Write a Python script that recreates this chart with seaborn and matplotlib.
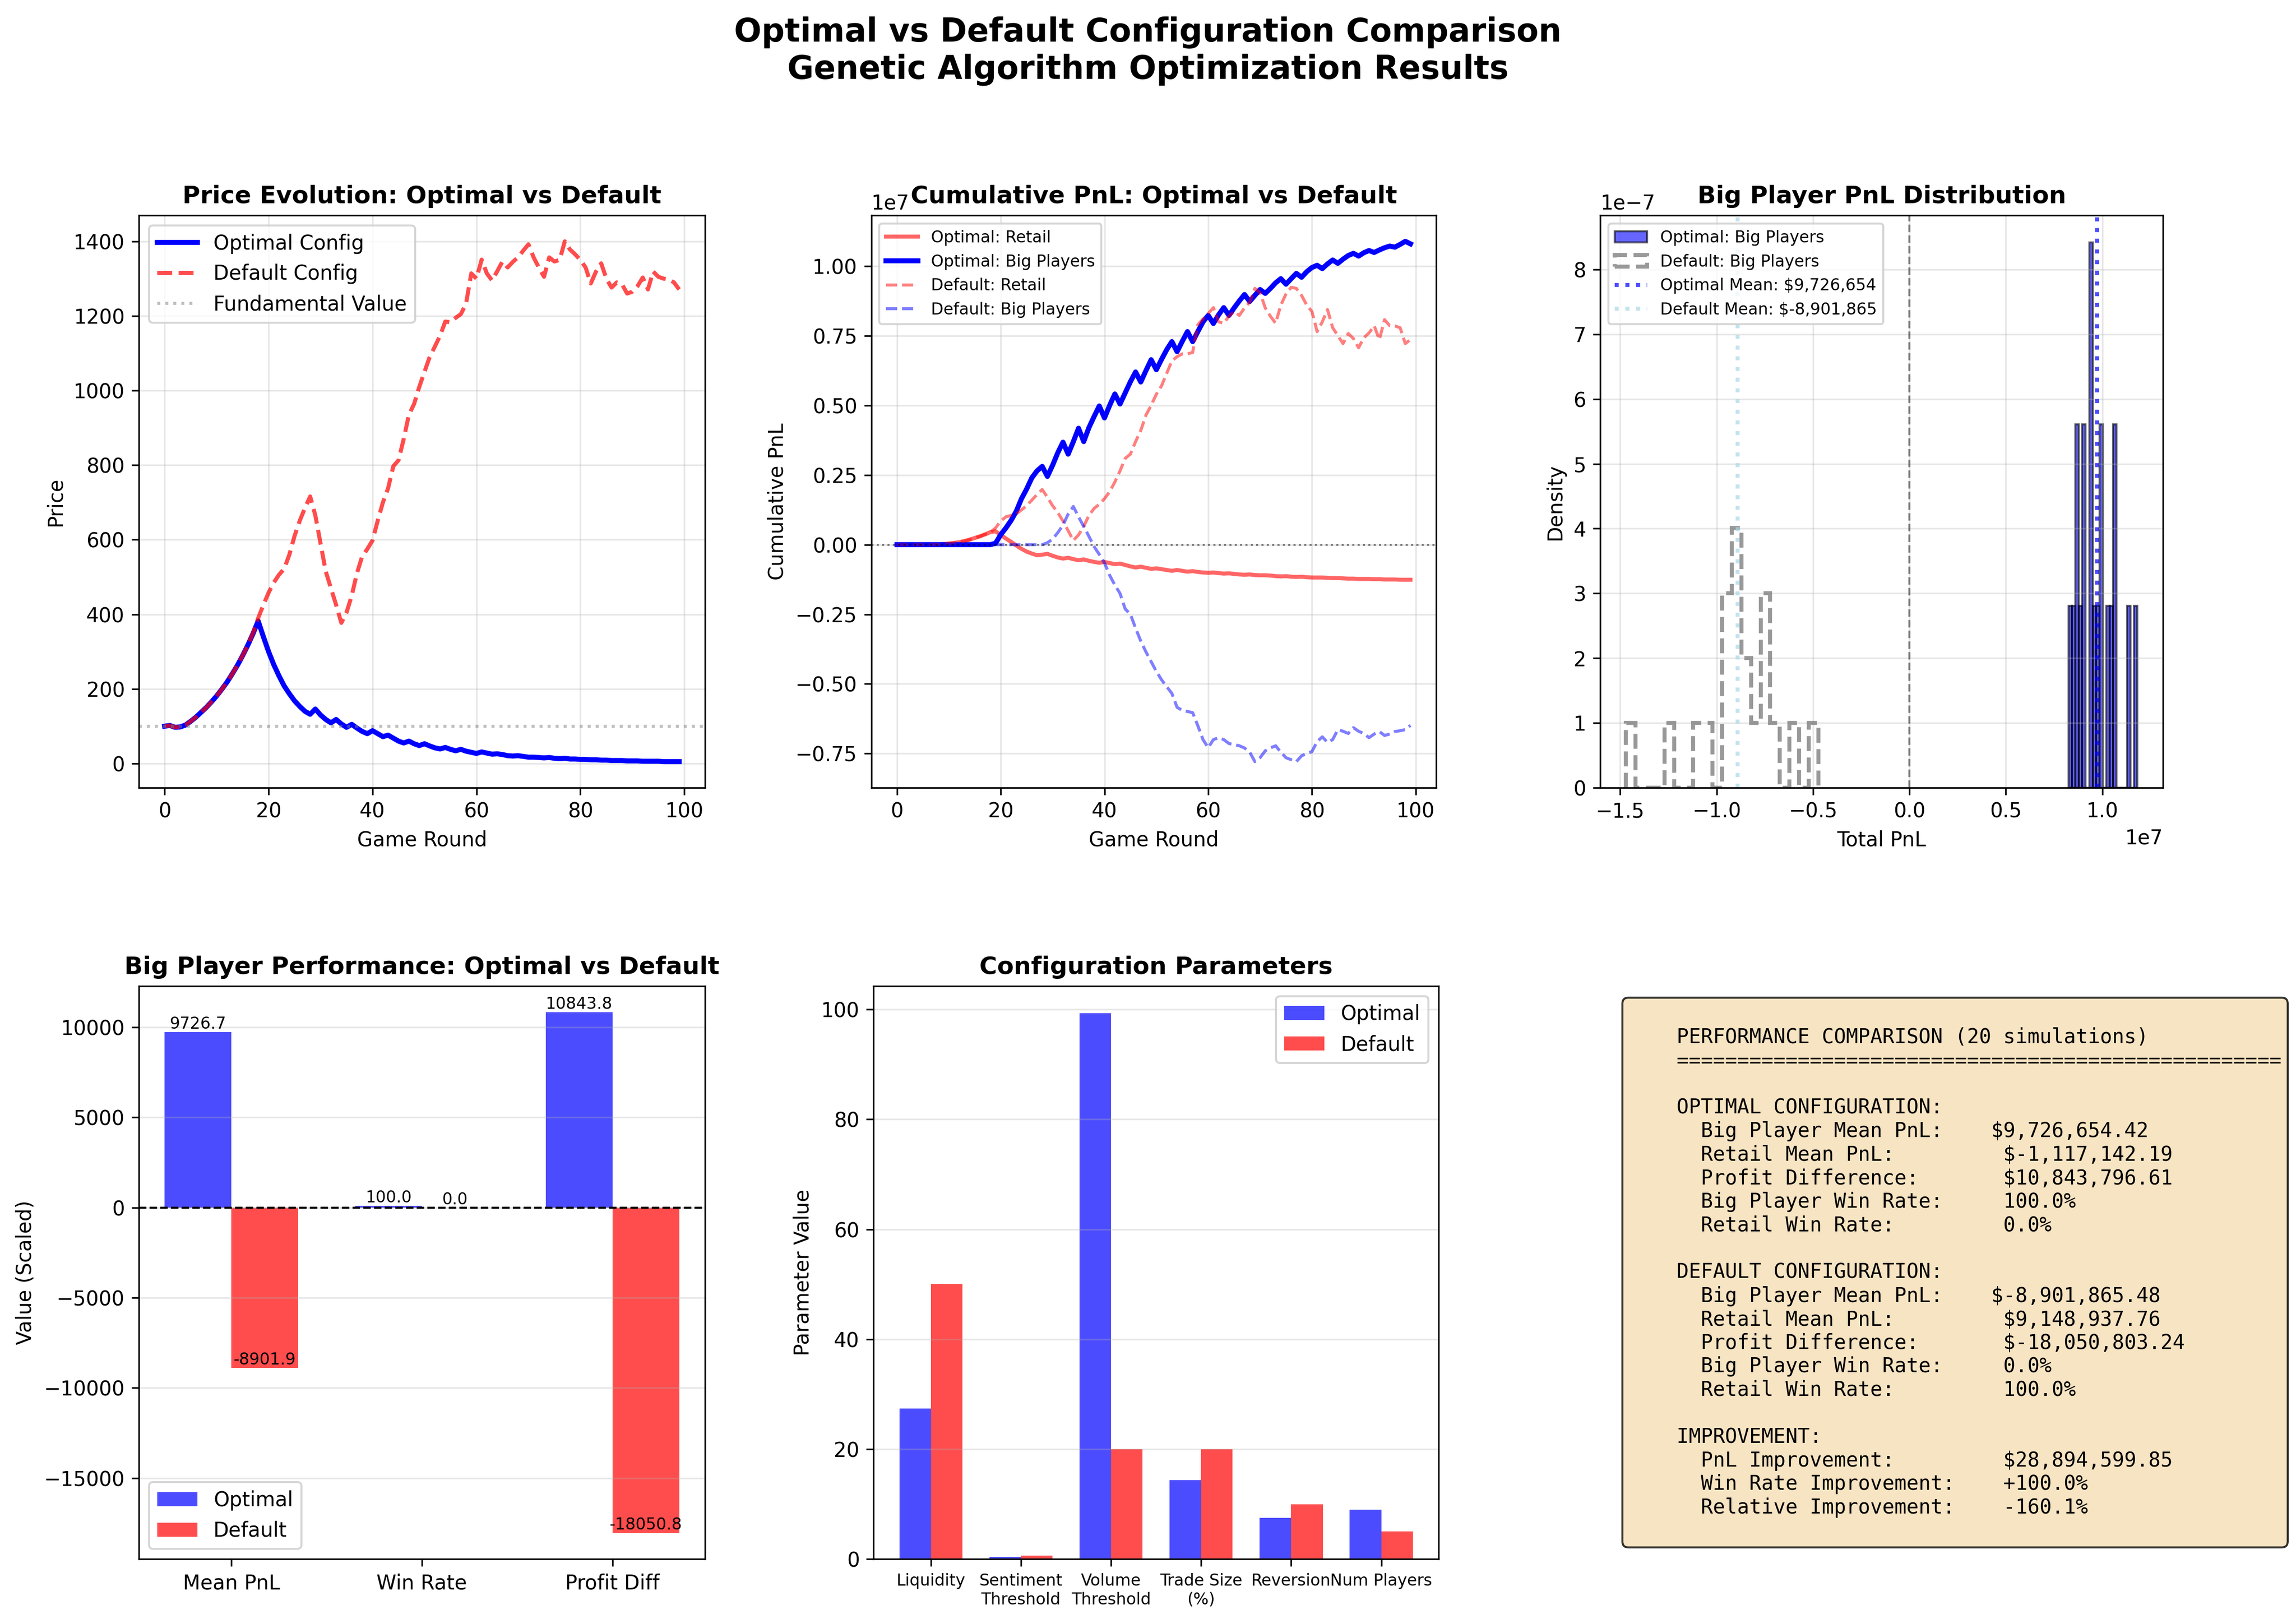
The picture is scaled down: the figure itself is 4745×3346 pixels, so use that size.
import numpy as np
import pandas as pd
import seaborn as sns
import matplotlib.pyplot as plt
from matplotlib.patches import Patch

# rounds
rounds = np.arange(100)

# price paths
price_optimal = [100, 102, 97, 98, 103, 113, 124, 137, 150, 165,
                 181, 199, 218, 240, 263, 289, 317, 348, 382, 340,
                 300, 265, 235, 208, 187, 168, 153, 140, 132, 146,
                 130, 118, 109, 118, 106, 97, 105, 95, 86, 80,
                 88, 80, 72, 76, 68, 60, 55, 60, 53, 48,
                 53, 47, 42, 39, 43, 38, 34, 38, 33, 30,
                 27, 31, 28, 25, 26, 24, 21, 20, 21, 19,
                 17, 17, 16, 15, 16, 14, 13, 14, 12, 12,
                 11, 11, 10, 10, 9, 9, 8, 8, 8, 7,
                 7, 7, 6, 6, 6, 6, 5, 5, 5, 5]
price_default = [100, 102, 97, 98, 103, 113, 124, 137, 150, 165,
                 181, 199, 218, 240, 263, 289, 317, 350, 390, 425,
                 458, 485, 506, 522, 560, 610, 651, 685, 716, 665,
                 590, 515, 470, 425, 377, 405, 450, 510, 555, 575,
                 598, 651, 700, 738, 797, 813, 870, 935, 964, 1010,
                 1050, 1090, 1118, 1147, 1185, 1183, 1195, 1205, 1233, 1314,
                 1300, 1351, 1314, 1295, 1320, 1346, 1330, 1345, 1357, 1375,
                 1392, 1357, 1330, 1305, 1357, 1346, 1350, 1400, 1378, 1365,
                 1350, 1330, 1287, 1319, 1341, 1300, 1276, 1290, 1285, 1260,
                 1265, 1280, 1303, 1271, 1319, 1305, 1300, 1298, 1290, 1271]
fundamental_value = 100

# cumulative pnl, in units of 1e7
cum_opt_retail = [0, 0, 0, 0, 0, 0, 0, 0, 0.001, 0.002,
                  0.004, 0.006, 0.009, 0.013, 0.018, 0.024, 0.030, 0.037, 0.045, 0.048,
                  0.035, 0.022, 0.010, -0.003, -0.015, -0.025, -0.032, -0.038, -0.036, -0.033,
                  -0.040, -0.046, -0.050, -0.047, -0.052, -0.056, -0.053, -0.058, -0.062, -0.065,
                  -0.062, -0.066, -0.070, -0.068, -0.073, -0.078, -0.082, -0.079, -0.083, -0.087,
                  -0.085, -0.088, -0.091, -0.094, -0.091, -0.094, -0.097, -0.095, -0.098, -0.100,
                  -0.101, -0.100, -0.102, -0.104, -0.103, -0.105, -0.107, -0.108, -0.107, -0.109,
                  -0.110, -0.110, -0.111, -0.113, -0.114, -0.113, -0.115, -0.116, -0.115, -0.117,
                  -0.118, -0.118, -0.118, -0.119, -0.120, -0.120, -0.121, -0.122, -0.122, -0.123,
                  -0.123, -0.123, -0.124, -0.124, -0.125, -0.125, -0.125, -0.126, -0.126, -0.126]
cum_opt_big = [0, 0, 0, 0, 0, 0, 0, 0, 0, 0,
               0, 0, 0, 0, 0, 0, 0, 0, 0, 0.005,
               0.036, 0.060, 0.087, 0.120, 0.165, 0.200, 0.240, 0.265, 0.281, 0.245,
               0.285, 0.330, 0.368, 0.325, 0.370, 0.418, 0.370, 0.420, 0.460, 0.498,
               0.455, 0.500, 0.541, 0.505, 0.545, 0.585, 0.620, 0.584, 0.625, 0.664,
               0.628, 0.665, 0.700, 0.729, 0.693, 0.730, 0.765, 0.729, 0.765, 0.800,
               0.823, 0.794, 0.825, 0.851, 0.823, 0.850, 0.875, 0.898, 0.873, 0.895,
               0.916, 0.902, 0.920, 0.940, 0.955, 0.935, 0.955, 0.974, 0.960, 0.980,
               0.995, 1.003, 0.991, 1.008, 1.022, 1.010, 1.025, 1.038, 1.046, 1.036,
               1.048, 1.056, 1.049, 1.058, 1.066, 1.072, 1.068, 1.078, 1.089, 1.080]
cum_def_retail = [0, 0, 0, 0, 0, 0, 0, 0, 0.001, 0.002,
                  0.004, 0.006, 0.009, 0.013, 0.018, 0.024, 0.030, 0.037, 0.045, 0.060,
                  0.085, 0.100, 0.105, 0.110, 0.125, 0.140, 0.160, 0.180, 0.198, 0.170,
                  0.140, 0.115, 0.085, 0.050, 0.015, 0.035, 0.065, 0.105, 0.130, 0.145,
                  0.165, 0.190, 0.225, 0.265, 0.310, 0.325, 0.370, 0.410, 0.465, 0.500,
                  0.540, 0.570, 0.615, 0.660, 0.675, 0.685, 0.685, 0.690, 0.790, 0.810,
                  0.830, 0.851, 0.800, 0.795, 0.820, 0.837, 0.823, 0.850, 0.870, 0.920,
                  0.905, 0.850, 0.820, 0.795, 0.860, 0.900, 0.924, 0.920, 0.895, 0.860,
                  0.837, 0.765, 0.800, 0.844, 0.779, 0.750, 0.722, 0.758, 0.740, 0.707,
                  0.743, 0.760, 0.786, 0.736, 0.808, 0.786, 0.785, 0.779, 0.722, 0.736]
cum_def_big = [0, 0, 0, 0, 0, 0, 0, 0, 0, 0,
               0, 0, 0, 0, 0, 0, 0, 0, 0, 0,
               0, 0, 0, 0, 0, 0, 0, 0, 0, 0.007,
               0.020, 0.043, 0.070, 0.110, 0.137, 0.100, 0.065, 0.030, -0.007, -0.035,
               -0.065, -0.110, -0.145, -0.175, -0.231, -0.250, -0.300, -0.346, -0.385, -0.420,
               -0.455, -0.485, -0.510, -0.534, -0.584, -0.595, -0.599, -0.603, -0.650, -0.700,
               -0.729, -0.700, -0.693, -0.700, -0.714, -0.718, -0.722, -0.730, -0.745, -0.779,
               -0.765, -0.740, -0.730, -0.722, -0.745, -0.765, -0.772, -0.779, -0.758, -0.750,
               -0.743, -0.707, -0.690, -0.710, -0.700, -0.664, -0.670, -0.678, -0.657, -0.670,
               -0.678, -0.693, -0.680, -0.671, -0.685, -0.680, -0.671, -0.668, -0.664, -0.649]

# total big player pnl per simulation, in millions
big_pnl_optimal = [8.248, 8.55, 8.68, 8.75, 8.90, 9.04, 9.12, 9.38, 9.43, 9.48,
                   9.58, 9.76, 9.90, 10.00, 10.28, 10.46, 10.62, 10.71, 11.40, 11.813]
big_pnl_default = [-14.707, -12.45, -10.95, -10.45, -9.65, -9.45, -9.30, -9.15, -9.00, -8.90,
                   -8.78, -8.60, -8.35, -7.95, -7.65, -7.45, -7.30, -6.95, -5.95, -4.725]

# summary numbers
n_sims = 20
opt_stats = [9726654.42, -1117142.19, 10843796.61, 100.0, 0.0]
def_stats = [-8901865.48, 9148937.76, -18050803.24, 0.0, 100.0]
improvement = [28894599.85, 100.0, -160.1]

# performance bars (pnl scaled to thousands)
perf_metrics = ['Mean PnL', 'Win Rate', 'Profit Diff']
perf_optimal = [9726.654, 100.0, 10843.797]
perf_default = [-8901.865, 0.0, -18050.803]

# configuration parameters
param_names = ['Liquidity', 'Sentiment\nThreshold', 'Volume\nThreshold',
               'Trade Size\n(%)', 'Reversion', 'Num Players']
param_optimal = [27.4, 0.35, 99.3, 14.4, 7.5, 9]
param_default = [50, 0.6, 20, 20, 10, 5]

fig = plt.figure(figsize=(4745 / 300, 3346 / 300))
ax1 = fig.add_axes([0.0605, 0.5135, 0.2465, 0.3535])
ax2 = fig.add_axes([0.3795, 0.5135, 0.2460, 0.3535])
ax3 = fig.add_axes([0.6970, 0.5135, 0.2450, 0.3535])
ax4 = fig.add_axes([0.0605, 0.0370, 0.2465, 0.3540])
ax5 = fig.add_axes([0.3805, 0.0370, 0.2460, 0.3540])
ax6 = fig.add_axes([0.6970, 0.0370, 0.2450, 0.3540])

fig.suptitle('Optimal vs Default Configuration Comparison\nGenetic Algorithm Optimization Results',
             fontsize=16, fontweight='bold', y=0.99)

# 1 price
sns.lineplot(x=rounds, y=price_optimal, ax=ax1, color='blue', linewidth=2.5, label='Optimal Config')
sns.lineplot(x=rounds, y=price_default, ax=ax1, color='red', linewidth=2, linestyle='--',
             alpha=0.7, label='Default Config')
ax1.axhline(fundamental_value, color='gray', linestyle=':', alpha=0.5, linewidth=1.5,
            label='Fundamental Value')
ax1.set_title('Price Evolution: Optimal vs Default', fontsize=12, fontweight='bold')
ax1.set_xlabel('Game Round')
ax1.set_ylabel('Price')
ax1.legend(loc='upper left')
ax1.grid(True, alpha=0.3)

# 2 cumulative pnl
sns.lineplot(x=rounds, y=np.array(cum_opt_retail) * 1e7, ax=ax2, color='red', linewidth=2,
             alpha=0.6, label='Optimal: Retail')
sns.lineplot(x=rounds, y=np.array(cum_opt_big) * 1e7, ax=ax2, color='blue', linewidth=2.5,
             label='Optimal: Big Players')
sns.lineplot(x=rounds, y=np.array(cum_def_retail) * 1e7, ax=ax2, color='red', linewidth=1.5,
             linestyle='--', alpha=0.5, label='Default: Retail')
sns.lineplot(x=rounds, y=np.array(cum_def_big) * 1e7, ax=ax2, color='blue', linewidth=1.5,
             linestyle='--', alpha=0.5, label='Default: Big Players')
ax2.axhline(0, color='black', linestyle=':', alpha=0.5, linewidth=1)
ax2.set_title('Cumulative PnL: Optimal vs Default', fontsize=12, fontweight='bold')
ax2.set_xlabel('Game Round')
ax2.set_ylabel('Cumulative PnL')
ax2.legend(loc='upper left', fontsize=8)
ax2.grid(True, alpha=0.3)

# 3 distribution
ax3.hist(np.array(big_pnl_optimal) * 1e6, bins=20, alpha=0.6, color='blue', edgecolor='black',
         density=True, label='Optimal: Big Players')
ax3.hist(np.array(big_pnl_default) * 1e6, bins=20, alpha=0.8, color='gray', density=True,
         histtype='step', linestyle='--', linewidth=2, label='Default: Big Players')
ax3.axvline(opt_stats[0], color='blue', linestyle=':', linewidth=2, alpha=0.7,
            label=f'Optimal Mean: ${opt_stats[0]:,.0f}')
ax3.axvline(def_stats[0], color='lightblue', linestyle=':', linewidth=2, alpha=0.7,
            label=f'Default Mean: ${def_stats[0]:,.0f}')
ax3.axvline(0, color='black', linestyle='--', alpha=0.5, linewidth=1)
ax3.set_title('Big Player PnL Distribution', fontsize=12, fontweight='bold')
ax3.set_xlabel('Total PnL')
ax3.set_ylabel('Density')
ax3.legend(loc='upper left', fontsize=8)
ax3.grid(True, alpha=0.3)

palette = {'Optimal': 'blue', 'Default': 'red'}
legend_handles = [Patch(facecolor='blue', alpha=0.7, label='Optimal'),
                  Patch(facecolor='red', alpha=0.7, label='Default')]

# 4 performance bars
perf_df = pd.DataFrame({
    'metric': perf_metrics * 2,
    'config': ['Optimal'] * 3 + ['Default'] * 3,
    'value': perf_optimal + perf_default,
})
sns.barplot(data=perf_df, x='metric', y='value', hue='config', palette=palette, alpha=0.7,
            saturation=1, width=0.7, errorbar=None, legend=False, ax=ax4)
for cont in ax4.containers:
    for bar in cont:
        h = bar.get_height()
        ax4.text(bar.get_x() + bar.get_width() / 2, h, f'{h:.1f}', ha='center', va='bottom',
                 fontsize=8)
ax4.axhline(0, color='black', linestyle='--', linewidth=1)
ax4.autoscale(enable=True, axis='x')
ax4.set_title('Big Player Performance: Optimal vs Default', fontsize=12, fontweight='bold')
ax4.set_xlabel('')
ax4.set_ylabel('Value (Scaled)')
ax4.legend(handles=legend_handles, loc='lower left')
ax4.grid(True, alpha=0.3, axis='y')

# 5 parameters
param_df = pd.DataFrame({
    'param': param_names * 2,
    'config': ['Optimal'] * 6 + ['Default'] * 6,
    'value': param_optimal + param_default,
})
sns.barplot(data=param_df, x='param', y='value', hue='config', palette=palette, alpha=0.7,
            saturation=1, width=0.7, errorbar=None, legend=False, ax=ax5)
ax5.autoscale(enable=True, axis='x')
ax5.set_title('Configuration Parameters', fontsize=12, fontweight='bold')
ax5.set_xlabel('')
ax5.set_ylabel('Parameter Value')
ax5.tick_params(axis='x', labelsize=8)
ax5.legend(handles=legend_handles, loc='upper right')
ax5.grid(True, alpha=0.3, axis='y')

# 6 summary text
ax6.axis('off')
summary = (
    "\n"
    f"    PERFORMANCE COMPARISON ({n_sims} simulations)\n"
    f"    {'=' * 50}\n"
    "    \n"
    "    OPTIMAL CONFIGURATION:\n"
    f"      Big Player Mean PnL:    ${opt_stats[0]:,.2f}\n"
    f"      Retail Mean PnL:         ${opt_stats[1]:,.2f}\n"
    f"      Profit Difference:       ${opt_stats[2]:,.2f}\n"
    f"      Big Player Win Rate:     {opt_stats[3]:.1f}%\n"
    f"      Retail Win Rate:         {opt_stats[4]:.1f}%\n"
    "    \n"
    "    DEFAULT CONFIGURATION:\n"
    f"      Big Player Mean PnL:    ${def_stats[0]:,.2f}\n"
    f"      Retail Mean PnL:         ${def_stats[1]:,.2f}\n"
    f"      Profit Difference:       ${def_stats[2]:,.2f}\n"
    f"      Big Player Win Rate:     {def_stats[3]:.1f}%\n"
    f"      Retail Win Rate:         {def_stats[4]:.1f}%\n"
    "    \n"
    "    IMPROVEMENT:\n"
    f"      PnL Improvement:         ${improvement[0]:,.2f}\n"
    f"      Win Rate Improvement:    {improvement[1]:+.1f}%\n"
    f"      Relative Improvement:    {improvement[2]:.1f}%\n"
    "    "
)
ax6.text(0.05, 0.5, summary, transform=ax6.transAxes, fontsize=10, va='center',
         family='monospace', bbox=dict(boxstyle='round', facecolor='wheat', alpha=0.8))

fig.savefig('out.png', dpi=300)
